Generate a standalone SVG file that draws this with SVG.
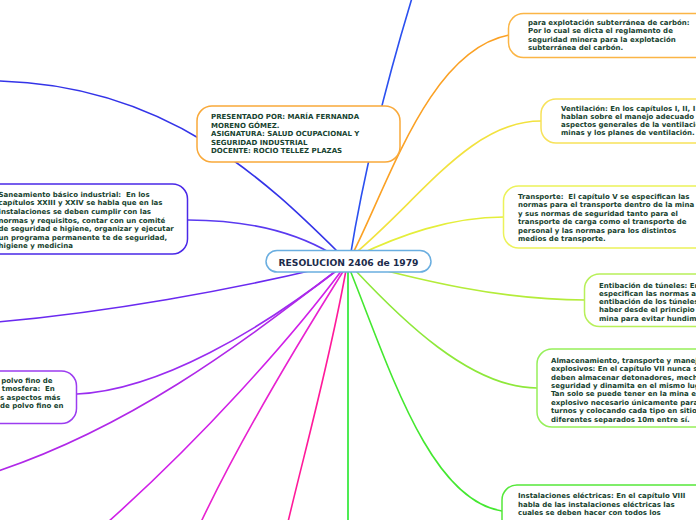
<svg xmlns="http://www.w3.org/2000/svg" width="696" height="520" viewBox="0 0 696 520">
<style>
.c{fill:none;stroke-width:1.6;stroke-linecap:round}
.n{fill:#fff;stroke-width:1.5}
.t{font-family:"DejaVu Sans",Verdana,sans-serif;font-weight:bold;font-size:7px;fill:#17432f;white-space:pre}
.m{font-family:"DejaVu Sans",Verdana,sans-serif;font-weight:bold;font-size:9.2px;fill:#1c2b4b}
</style>
<rect width="696" height="520" fill="#fff"/>
<g id="connectors">
<path class="c" stroke="#2b50f0" d="M350,258 Q369,140 412,-2"/>
<path class="c" stroke="#3434e8" d="M340,254 C270,185 170,85 -2,81"/>
<path class="c" stroke="#5a3af0" d="M188,220 C250,220 295,232 332,254"/>
<path class="c" stroke="#6a2af0" d="M322,268 C230,290 110,312 -2,322"/>
<path class="c" stroke="#9a2cf0" d="M340,268 C260,330 160,390 77,394"/>
<path class="c" stroke="#b028e8" d="M340,268 C270,320 150,420 -2,471"/>
<path class="c" stroke="#d020e8" d="M342,270 C290,340 200,440 108,522"/>
<path class="c" stroke="#e822d0" d="M344,270 C300,340 240,440 201,522"/>
<path class="c" stroke="#ff1a9a" d="M346,270 C330,360 305,450 288,522"/>
<path class="c" stroke="#22e82a" d="M348,270 L348,522"/>
<path class="c" stroke="#44e830" d="M350,270 C390,370 430,500 502,511"/>
<path class="c" stroke="#8ee83a" d="M355,270 C400,318 470,388 537,388"/>
<path class="c" stroke="#b4ec3a" d="M352,262 C420,280 500,300 585,300"/>
<path class="c" stroke="#e4ee3a" d="M352,258 C400,235 450,217 504,217"/>
<path class="c" stroke="#f2e23e" d="M352,256 C420,200 470,121 541,121"/>
<path class="c" stroke="#fba124" d="M352,255 C390,180 430,50 509,35"/>
</g>
<g id="center">
<rect class="n" x="266" y="250.5" width="165" height="21.5" rx="11" stroke="#6aaee0"/>
<text class="m" x="348.5" y="265.5" text-anchor="middle">RESOLUCION 2406 de 1979</text>
</g>
<g id="presentado">
<rect class="n" x="197" y="106" width="203" height="56" rx="15" stroke="#f9a93a"/>
<text class="t"><tspan x="211" y="119">PRESENTADO POR: MARÍA FERNANDA</tspan><tspan x="211" y="127.5">MORENO GÓMEZ.</tspan><tspan x="211" y="136">ASIGNATURA: SALUD OCUPACIONAL Y</tspan><tspan x="211" y="144.5">SEGURIDAD INDUSTRIAL</tspan><tspan x="211" y="153">DOCENTE: ROCIO TELLEZ PLAZAS</tspan></text>
</g>
<g id="carbon">
<rect class="n" x="508.5" y="13.5" width="220" height="44" rx="15" stroke="#fbb545"/>
<text class="t"><tspan x="528" y="25">para explotación subterránea de carbón:</tspan><tspan x="528" y="33.3">Por lo cual se dicta el reglamento de</tspan><tspan x="528" y="41.6">seguridad minera para la explotación</tspan><tspan x="528" y="49.9">subterránea del carbón.</tspan></text>
</g>
<g id="ventilacion">
<rect class="n" x="541" y="99" width="200" height="44" rx="15" stroke="#f7e25a"/>
<text class="t"><tspan x="561" y="110.7">Ventilación: En los capítulos I, II, I</tspan><tspan x="561" y="118.7">hablan sobre el manejo adecuado</tspan><tspan x="561" y="126.7">aspectos generales de la ventilació</tspan><tspan x="561" y="134.7">minas y los planes de ventilación.</tspan></text>
</g>
<g id="transporte">
<rect class="n" x="503.5" y="186" width="220" height="62" rx="15" stroke="#ecf25a"/>
<text class="t"><tspan x="518" y="198.5">Transporte:  El capítulo V se especifican las</tspan><tspan x="518" y="207">normas para el transporte dentro de la mina</tspan><tspan x="518" y="215.5">y sus normas de seguridad tanto para el</tspan><tspan x="518" y="224">transporte de carga como el transporte de</tspan><tspan x="518" y="232.5">personal y las normas para los distintos</tspan><tspan x="518" y="241">medios de transporte.</tspan></text>
</g>
<g id="entibacion">
<rect class="n" x="584.5" y="274" width="150" height="52.5" rx="15" stroke="#b8f05a"/>
<text class="t"><tspan x="599" y="287.5">Entibación de túneles: En</tspan><tspan x="599" y="295.8">especifican las normas a</tspan><tspan x="599" y="304">entibación de los túneles</tspan><tspan x="599" y="312.2">haber desde el principio</tspan><tspan x="599" y="320.5">mina para evitar hundim</tspan></text>
</g>
<g id="almacenamiento">
<rect class="n" x="537" y="349" width="200" height="78" rx="15" stroke="#96f05a"/>
<text class="t"><tspan x="551" y="362.5">Almacenamiento, transporte y manej</tspan><tspan x="551" y="370.8">explosivos: En el capítulo VII nunca s</tspan><tspan x="551" y="379.5">deben almacenar detonadores, mech</tspan><tspan x="551" y="387.8">seguridad y dinamita en el mismo lug</tspan><tspan x="551" y="396.2">Tan solo se puede tener en la mina e</tspan><tspan x="551" y="404.5">explosivo necesario únicamente para</tspan><tspan x="551" y="413.2">turnos y colocando cada tipo en sitio</tspan><tspan x="551" y="421.5">diferentes separados 10m entre sí.</tspan></text>
</g>
<g id="instalaciones">
<rect class="n" x="502" y="485" width="220" height="60" rx="15" stroke="#55e83a"/>
<text class="t"><tspan x="518" y="498">Instalaciones eléctricas: En el capítulo VIII</tspan><tspan x="518" y="506.5">habla de las instalaciones eléctricas las</tspan><tspan x="518" y="515">cuales se deben hacer con todos los</tspan></text>
</g>
<g id="saneamiento">
<rect class="n" x="-30" y="184" width="217.5" height="70" rx="15" stroke="#4a28e8"/>
<text class="t"><tspan x="-1.5" y="196.5">Saneamiento básico industrial:  En los</tspan><tspan x="-1.5" y="205.2">capítulos XXIII y XXIV se habla que en las</tspan><tspan x="-1.5" y="213.8">instalaciones se deben cumplir con las</tspan><tspan x="-1.5" y="222.5">normas y requisitos, contar con un comité</tspan><tspan x="-1.5" y="231.2">de seguridad e higiene, organizar y ejecutar</tspan><tspan x="-1.5" y="239.8">un programa permanente te de seguridad,</tspan><tspan x="-1.5" y="248.2">higiene y medicina</tspan></text>
</g>
<g id="polvo">
<rect class="n" x="-40" y="371" width="116.5" height="52.5" rx="15" stroke="#9c3cf0"/>
<text class="t"><tspan x="1.3" y="382.5">polvo fino de</tspan><tspan x="1.8" y="391">tmosfera:  En</tspan><tspan x="0" y="399.5">s aspectos más</tspan><tspan x="0" y="408">de polvo fino en</tspan></text>
</g>
</svg>
